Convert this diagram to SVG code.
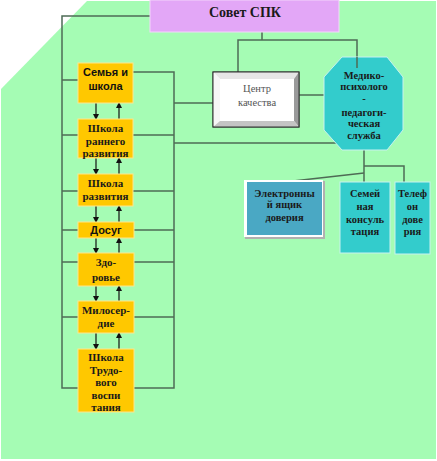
<svg xmlns="http://www.w3.org/2000/svg" width="437" height="461" viewBox="0 0 437 461">
<style>
.bg{fill:#A5FCB4}
.ob{fill:#FFC800;stroke:#FFE58C;stroke-width:1}
.tq{fill:#33CCCC;stroke:#C8F2F0;stroke-width:1}
.ln{fill:none;stroke:#4E6B55;stroke-width:1.5}
.ar{fill:none;stroke:#111;stroke-width:1.2}
.ts{font-family:"Liberation Serif",serif;font-weight:bold;font-size:11px;fill:#1a1a1a;text-anchor:middle}
.ta{font-family:"Liberation Sans",Arial,sans-serif;font-weight:bold;font-size:11px;fill:#111;text-anchor:middle}
</style>
<defs>
<marker id="ah" markerWidth="6" markerHeight="6" refX="5" refY="3" orient="auto" markerUnits="userSpaceOnUse">
<path d="M0,0 L6,3 L0,6 z" fill="#111"/>
</marker>
</defs>
<rect width="437" height="461" fill="#ffffff"/>
<polygon class="bg" points="87,1 436,1 436,459 1,459 1,89"/>

<g id="connectors">
<polyline class="ln" points="150,16 62,16 62,388 79,388"/>
<line class="ln" x1="62" y1="80" x2="79" y2="80"/>
<line class="ln" x1="62" y1="135" x2="79" y2="135"/>
<line class="ln" x1="62" y1="191" x2="79" y2="191"/>
<line class="ln" x1="62" y1="230" x2="79" y2="230"/>
<line class="ln" x1="62" y1="262" x2="79" y2="262"/>
<line class="ln" x1="62" y1="317" x2="79" y2="317"/>
<polyline class="ln" points="133,72 174,72 174,388 133,388"/>
<line class="ln" x1="133" y1="135" x2="174" y2="135"/>
<line class="ln" x1="133" y1="191" x2="174" y2="191"/>
<line class="ln" x1="133" y1="230" x2="174" y2="230"/>
<line class="ln" x1="133" y1="262" x2="174" y2="262"/>
<line class="ln" x1="133" y1="317" x2="174" y2="317"/>
<line class="ln" x1="174" y1="103" x2="213" y2="103"/>
<line class="ln" x1="174" y1="143" x2="341" y2="143"/>
<line class="ln" x1="299" y1="95" x2="324" y2="95"/>
<line class="ln" x1="262" y1="32" x2="262" y2="40"/>
<polyline class="ln" points="238,72 238,40 357,40 357,68"/>
<line class="ln" x1="364" y1="150" x2="364" y2="182"/>
<polyline class="ln" points="364,166 404,166 404,182"/>
<line class="ln" x1="293" y1="181" x2="364" y2="173"/>
<line class="ar" x1="96" y1="103" x2="96" y2="119" marker-end="url(#ah)"/>
<line class="ar" x1="119" y1="119" x2="119" y2="103" marker-end="url(#ah)"/>
<line class="ar" x1="96" y1="158" x2="96" y2="174" marker-end="url(#ah)"/>
<line class="ar" x1="119" y1="174" x2="119" y2="158" marker-end="url(#ah)"/>
<line class="ar" x1="96" y1="206" x2="96" y2="222" marker-end="url(#ah)"/>
<line class="ar" x1="119" y1="222" x2="119" y2="206" marker-end="url(#ah)"/>
<line class="ar" x1="96" y1="238" x2="96" y2="253" marker-end="url(#ah)"/>
<line class="ar" x1="119" y1="253" x2="119" y2="238" marker-end="url(#ah)"/>
<line class="ar" x1="96" y1="286" x2="96" y2="301" marker-end="url(#ah)"/>
<line class="ar" x1="119" y1="301" x2="119" y2="286" marker-end="url(#ah)"/>
<line class="ar" x1="96" y1="333" x2="96" y2="349" marker-end="url(#ah)"/>
<line class="ar" x1="119" y1="349" x2="119" y2="333" marker-end="url(#ah)"/>
</g>

<g id="sovet">
<rect x="150" y="0" width="189" height="32" fill="#E3A7F7" stroke="#F3D6FB" stroke-width="1"/>
<text x="245" y="17" class="ts" style="font-size:14px">Совет СПК</text>
</g>

<g id="semya">
<rect class="ob" x="78" y="63" width="55" height="40"/>
<text class="ta" x="105.5" y="76">Семья и</text>
<text class="ta" x="105.5" y="90">школа</text>
</g>
<g id="rannego">
<rect class="ob" x="78" y="119" width="55" height="39"/>
<text class="ts" x="105.5" y="132">Школа</text>
<text class="ts" x="105.5" y="145">раннего</text>
<text class="ts" x="105.5" y="157">развития</text>
</g>
<g id="razvitiya">
<rect class="ob" x="78" y="174" width="55" height="32"/>
<text class="ts" x="105.5" y="187">Школа</text>
<text class="ts" x="105.5" y="200">развития</text>
</g>
<g id="dosug">
<rect class="ob" x="78" y="222" width="56" height="16"/>
<text class="ta" x="106" y="234">Досуг</text>
</g>
<g id="zdorovie">
<rect class="ob" x="78" y="253" width="56" height="33"/>
<text class="ts" x="106" y="266">Здо-</text>
<text class="ts" x="106" y="281">ровье</text>
</g>
<g id="miloserdie">
<rect class="ob" x="78" y="301" width="56" height="32"/>
<text class="ts" x="106" y="314">Милосер-</text>
<text class="ts" x="106" y="327">дие</text>
</g>
<g id="trudovogo">
<rect class="ob" x="78" y="349" width="56" height="63"/>
<text class="ts" x="106" y="361">Школа</text>
<text class="ts" x="106" y="374">Трудо-</text>
<text class="ts" x="106" y="386">вого</text>
<text class="ts" x="106" y="399">воспи</text>
<text class="ts" x="106" y="411">тания</text>
</g>

<g id="centr">
<rect x="213" y="72" width="86" height="55" fill="#ffffff" stroke="#333" stroke-width="1"/>
<polygon points="213,72 299,72 294,79 220,79" fill="#E6E6E6"/>
<polygon points="213,72 220,79 220,121 213,127" fill="#F6F6F6"/>
<polygon points="299,72 299,127 294,121 294,79" fill="#9A9A9A"/>
<polygon points="213,127 220,121 294,121 299,127" fill="#C4C4C4"/>
<rect x="220" y="79" width="74" height="42" fill="#ffffff"/>
<rect x="213" y="72" width="86" height="55" fill="none" stroke="#333" stroke-width="1"/>
<text x="257" y="92" style="font-family:'Liberation Serif',serif;font-size:10.5px;fill:#555;text-anchor:middle">Центр</text>
<text x="257" y="106" style="font-family:'Liberation Serif',serif;font-size:10.5px;fill:#555;text-anchor:middle">качества</text>
</g>

<g id="mps">
<polygon class="tq" points="342,57 387,57 403,77 403,130 387,150 342,150 324,130 324,77"/>
<text class="ts" x="364" y="79" style="font-size:10.5px">Медико-</text>
<text class="ts" x="364" y="90" style="font-size:10.5px">психолого</text>
<text class="ts" x="364" y="102" style="font-size:10.5px">-</text>
<text class="ts" x="364" y="116" style="font-size:10.5px">педагоги-</text>
<text class="ts" x="364" y="127" style="font-size:10.5px">ческая</text>
<text class="ts" x="364" y="139" style="font-size:10.5px">служба</text>
</g>
<line class="ln" x1="357" y1="57" x2="357" y2="68"/>

<g id="elektron">
<rect x="245" y="181" width="80" height="58" fill="#B0B0B0"/>
<rect x="244" y="180" width="79" height="57" fill="#ffffff"/>
<rect x="247" y="182" width="75" height="53" fill="#4AA8C4"/>
<text class="ts" x="284.5" y="197" style="font-size:10.5px">Электронны</text>
<text class="ts" x="284.5" y="208" style="font-size:10.5px">й ящик</text>
<text class="ts" x="284.5" y="221" style="font-size:10.5px">доверия</text>
</g>
<g id="semeynaya">
<rect class="tq" x="340" y="182" width="50" height="71"/>
<text class="ts" x="365" y="197" style="font-size:10.5px">Семей</text>
<text class="ts" x="365" y="210" style="font-size:10.5px">ная</text>
<text class="ts" x="365" y="223" style="font-size:10.5px">консуль</text>
<text class="ts" x="365" y="235" style="font-size:10.5px">тация</text>
</g>
<g id="telefon">
<rect class="tq" x="395" y="182" width="35" height="72"/>
<text class="ts" x="412.5" y="197" style="font-size:10.5px">Телеф</text>
<text class="ts" x="412.5" y="210" style="font-size:10.5px">он</text>
<text class="ts" x="412.5" y="223" style="font-size:10.5px">дове</text>
<text class="ts" x="412.5" y="235" style="font-size:10.5px">рия</text>
</g>
</svg>
